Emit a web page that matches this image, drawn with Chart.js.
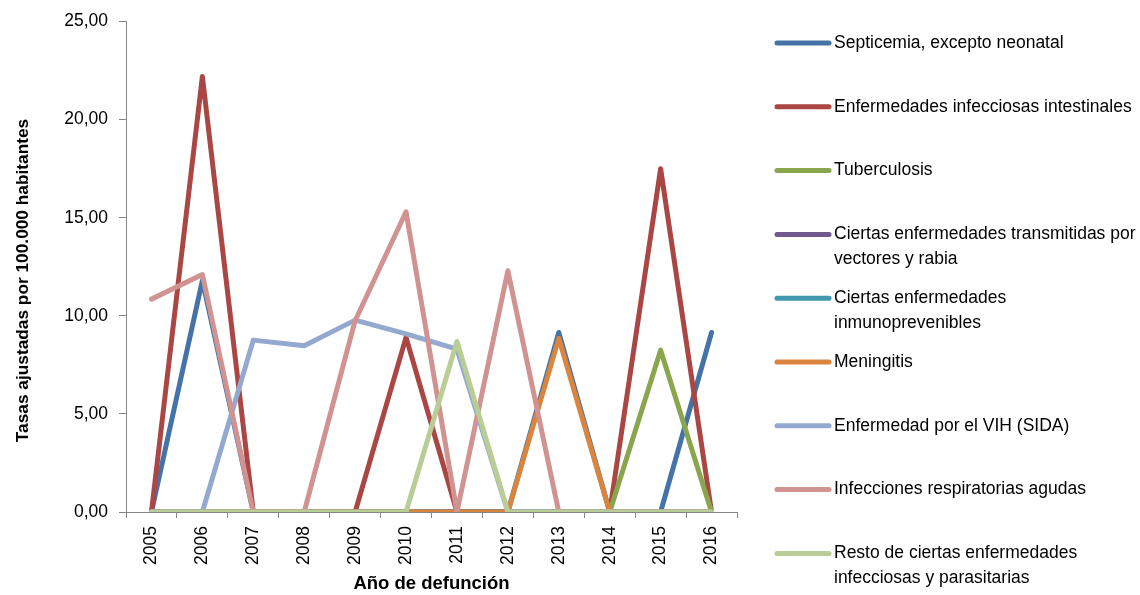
<!DOCTYPE html>
<html>
<head>
<meta charset="utf-8">
<script src="https://cdn.jsdelivr.net/npm/chart.js@4/dist/chart.umd.min.js"></script>
<style>
  html, body { margin: 0; padding: 0; background: #ffffff; }
  #wrap { width: 1140px; height: 595px; }
</style>
</head>
<body>
<div id="wrap"><canvas id="chart" width="1140" height="595"></canvas></div>
<script>
// Years of death (x axis categories)
const years = ['2005', '2006', '2007', '2008', '2009', '2010', '2011', '2012', '2013', '2014', '2015', '2016'];

// Adjusted rates per 100,000 inhabitants, one array per cause
const septicemia     = [0, 11.8, 0, 0, 0, 0, 0, 0, 9.15, 0, 0, 9.15];
const intestinales   = [0, 22.2, 0, 0, 0, 8.9, 0, 0, 0, 0, 17.5, 0];
const tuberculosis   = [0, 0, 0, 0, 0, 0, 0, 0, 0, 0, 8.25, 0];
const vectores       = [0, 0, 0, 0, 0, 0, 0, 0, 0, 0, 0, 0];
const inmuno         = [0, 0, 0, 0, 0, 0, 0, 0, 0, 0, 0, 0];
const meningitis     = [0, 0, 0, 0, 0, 0, 0, 0, 8.85, 0, 0, 0];
const vih            = [0, 0, 8.76, 8.47, 9.78, 9.08, 8.3, 0, 0, 0, 0, 0];
const respiratorias  = [10.85, 12.1, 0, 0, 9.75, 15.3, 0, 12.3, 0, 0, 0, 0];
const resto          = [0, 0, 0, 0, 0, 0, 8.69, 0, 0, 0, 0, 0];

// Legend names, split into the lines they are printed on
const seriesNames = [
  ['Septicemia, excepto neonatal'],
  ['Enfermedades infecciosas intestinales'],
  ['Tuberculosis'],
  ['Ciertas enfermedades transmitidas por', 'vectores y rabia'],
  ['Ciertas enfermedades', 'inmunoprevenibles'],
  ['Meningitis'],
  ['Enfermedad por el VIH (SIDA)'],
  ['Infecciones respiratorias agudas'],
  ['Resto de ciertas enfermedades', 'infecciosas y parasitarias']
];
const seriesValues = [septicemia, intestinales, tuberculosis, vectores, inmuno, meningitis, vih, respiratorias, resto];

// Y axis range and tick step
const yMin = 0, yMax = 25, yStep = 5;

// Axis titles
const yTitle = 'Tasas ajustadas por 100.000 habitantes';
const xTitle = 'Año de defunción';

const colors = ['#4572A7', '#AA4643', '#89A54E', '#71588F', '#4198AF', '#DB843D', '#93A9CF', '#D19392', '#B9CD96'];
const FONT = "'Liberation Sans', Arial, sans-serif";
const FS = 17.5;
const AXIS = '#868686';
const LW = 5;

const datasets = seriesValues.map((vals, i) => ({
  label: seriesNames[i].join(' '),
  legendLines: seriesNames[i],
  data: vals,
  borderColor: colors[i],
  backgroundColor: colors[i],
  borderWidth: LW,
  borderJoinStyle: 'round',
  borderCapStyle: 'round',
  pointRadius: 0,
  pointHoverRadius: 0,
  tension: 0,
  fill: false,
  // later series are painted over earlier ones
  order: seriesValues.length - i
}));

// Rotated y-axis title, a little below the middle of the axis
const yAxisTitle = {
  id: 'yAxisTitle',
  afterDraw(chart) {
    const ctx = chart.ctx;
    ctx.save();
    ctx.font = 'bold 17.3px ' + FONT;
    ctx.fillStyle = '#000000';
    ctx.textAlign = 'center';
    ctx.textBaseline = 'alphabetic';
    ctx.translate(28, 280.5);
    ctx.rotate(-Math.PI / 2);
    ctx.fillText(yTitle, 0, 0);
    ctx.restore();
  }
};

// Legend on the right: short line sample followed by the (possibly wrapped) name
const sideLegend = {
  id: 'sideLegend',
  afterDraw(chart) {
    const ctx = chart.ctx;
    ctx.save();
    ctx.font = FS + 'px ' + FONT;
    ctx.textAlign = 'left';
    ctx.textBaseline = 'middle';
    chart.data.datasets.forEach((ds, i) => {
      const y = 43 + i * 63.8;
      ctx.strokeStyle = ds.borderColor;
      ctx.lineWidth = LW;
      ctx.lineCap = 'round';
      ctx.beginPath();
      ctx.moveTo(777, y);
      ctx.lineTo(829, y);
      ctx.stroke();
      ctx.fillStyle = '#000000';
      ds.legendLines.forEach((line, k) => {
        ctx.fillText(line, 834, y + k * 25);
      });
    });
    ctx.restore();
  }
};

new Chart(document.getElementById('chart'), {
  type: 'line',
  data: { labels: years, datasets },
  plugins: [sideLegend, yAxisTitle],
  options: {
    responsive: false,
    devicePixelRatio: 1,
    animation: false,
    events: [],
    layout: { padding: { left: 0, top: 14, right: 403, bottom: 0 } },
    plugins: {
      legend: { display: false },
      tooltip: { enabled: false }
    },
    scales: {
      x: {
        type: 'category',
        offset: true,
        afterFit(s) { s.height = 83; },
        grid: {
          offset: true,
          drawOnChartArea: false,
          drawTicks: true,
          tickLength: 6,
          color: AXIS,
          lineWidth: 1
        },
        border: { display: true, color: AXIS, width: 1 },
        ticks: {
          color: '#000000',
          font: { family: FONT, size: FS },
          minRotation: 90,
          maxRotation: 90,
          autoSkip: false,
          padding: 8
        },
        title: {
          display: true,
          text: xTitle,
          color: '#000000',
          font: { family: FONT, size: 18.5, weight: 'bold' },
          padding: { top: 0, bottom: 0 }
        }
      },
      y: {
        min: yMin,
        max: yMax,
        afterFit(s) { s.width = 126; },
        grid: {
          drawOnChartArea: false,
          drawTicks: true,
          tickLength: 7,
          color: AXIS,
          lineWidth: 1
        },
        border: { display: true, color: AXIS, width: 1 },
        ticks: {
          stepSize: yStep,
          color: '#000000',
          font: { family: FONT, size: FS },
          padding: 11,
          callback: (v) => Number(v).toFixed(2).replace('.', ',')
        },
        title: { display: false }
      }
    }
  }
});
</script>
</body>
</html>
